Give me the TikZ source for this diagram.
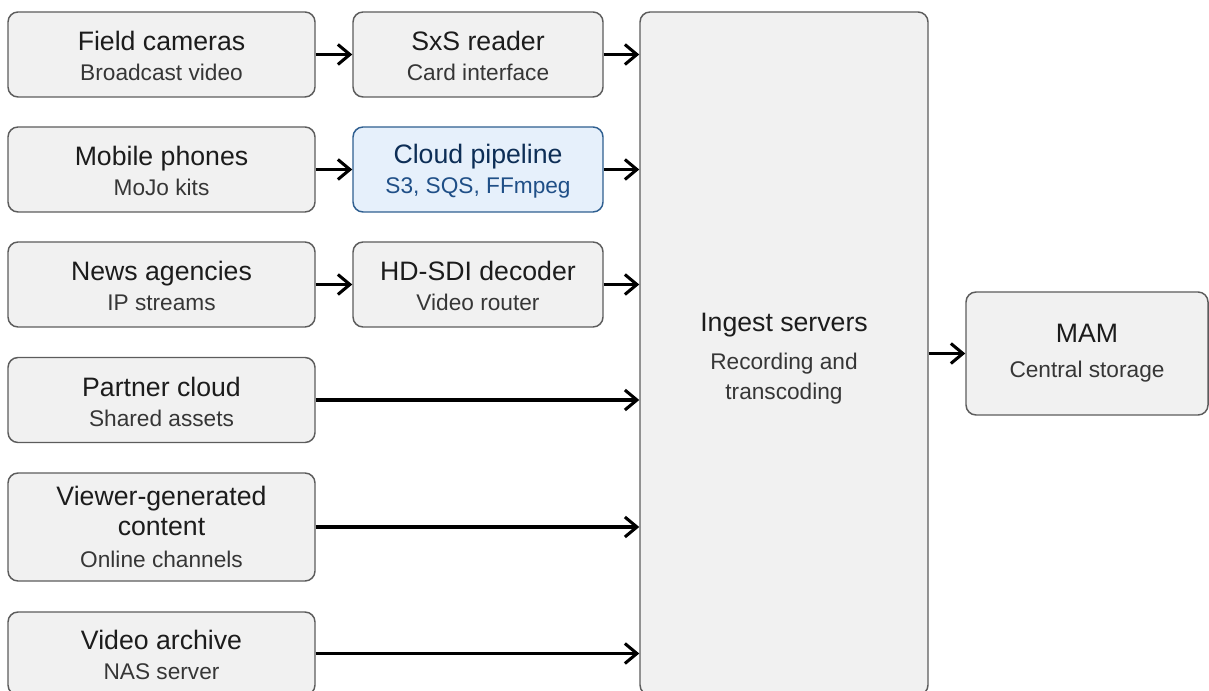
\documentclass[tikz,border=0pt]{standalone}
\usepackage{fontspec}
\setmainfont{Liberation Sans}
\usetikzlibrary{arrows.meta}

\definecolor{boxfill}{HTML}{F1F1F1}
\definecolor{boxline}{HTML}{5C5C5C}
\definecolor{titletxt}{HTML}{1C1C1C}
\definecolor{subtxt}{HTML}{363636}
\definecolor{cloudfill}{HTML}{E6F0FB}
\definecolor{cloudline}{HTML}{2F5F90}
\definecolor{cloudtitle}{HTML}{0D2E56}
\definecolor{cloudsub}{HTML}{1F4F87}

\newcommand{\titlefont}{\fontsize{20}{22.5}\selectfont}
\newcommand{\subfont}{\fontsize{17}{22.5}\selectfont\color{subtxt}}
\newcommand{\boxlabel}[2]{\rule{0pt}{17pt}#1\\\subfont #2}

\tikzset{
  block/.style={draw=boxline, fill=boxfill, line width=1.1pt, rounded corners=7.5pt,
    text=titletxt, align=center, inner sep=0pt, font=\titlefont},
  srcbox/.style={block, minimum width=230.25pt, minimum height=63.75pt},
  midbox/.style={block, minimum width=187.5pt, minimum height=63.75pt},
  cloudbox/.style={midbox, draw=cloudline, fill=cloudfill, text=cloudtitle,
    execute at begin node={\colorlet{subtxt}{cloudsub}}},
  feed/.style={line width=2.3pt, -{Straight Barb[length=9pt,width=15pt]}}
}

\begin{document}
\begin{tikzpicture}[x=0.75pt,y=0.75pt,yscale=-1,xscale=1]
\useasboundingbox (0,0) rectangle (1209,691);

% sources
\node [srcbox] (cam) at (161.5,54.5) {\boxlabel{Field cameras}{Broadcast video}};
\node [srcbox] (phones) at (161.5,169.5) {\boxlabel{Mobile phones}{MoJo kits}};
\node [srcbox] (agencies) at (161.5,284.5) {\boxlabel{News agencies}{IP streams}};
\node [srcbox] (partner) at (161.5,400) {\boxlabel{Partner cloud}{Shared assets}};
\node [srcbox, minimum height=81pt] (viewer) at (161.5,527)
  {Viewer-generated\\content\\[1.5pt]\subfont Online channels};
\node [srcbox, minimum height=62.25pt] (archive) at (161.5,653.5) {\boxlabel{Video archive}{NAS server}};

% interfaces
\node [midbox] (sxs) at (478,54.5) {\boxlabel{SxS reader}{Card interface}};
\node [cloudbox] (cloud) at (478,169.5) {\boxlabel{Cloud pipeline}{S3, SQS, FFmpeg}};
\node [midbox] (sdi) at (478,284.5) {\boxlabel{HD-SDI decoder}{Video router}};

% ingest and storage
\node [block, minimum width=216pt, minimum height=512.25pt] (ingest) at (784,353.5)
  {\rule{0pt}{22pt}Ingest servers\\[6pt]\subfont Recording and\\\subfont transcoding};
\node [block, minimum width=181.5pt, minimum height=92.25pt] (mam) at (1087,353.5)
  {MAM\\[4pt]\subfont Central storage};

% connectors
\draw [feed] (cam) -- (sxs);
\draw [feed] (phones) -- (cloud);
\draw [feed] (agencies) -- (sdi);
\draw [feed] (sxs) -- (sxs.east -| ingest.west);
\draw [feed] (cloud) -- (cloud.east -| ingest.west);
\draw [feed] (sdi) -- (sdi.east -| ingest.west);
\draw [feed] (partner) -- (partner.east -| ingest.west);
\draw [feed] (viewer) -- (viewer.east -| ingest.west);
\draw [feed] (archive) -- (archive.east -| ingest.west);
\draw [feed] (ingest.east |- mam.west) -- (mam);

\end{tikzpicture}
\end{document}
